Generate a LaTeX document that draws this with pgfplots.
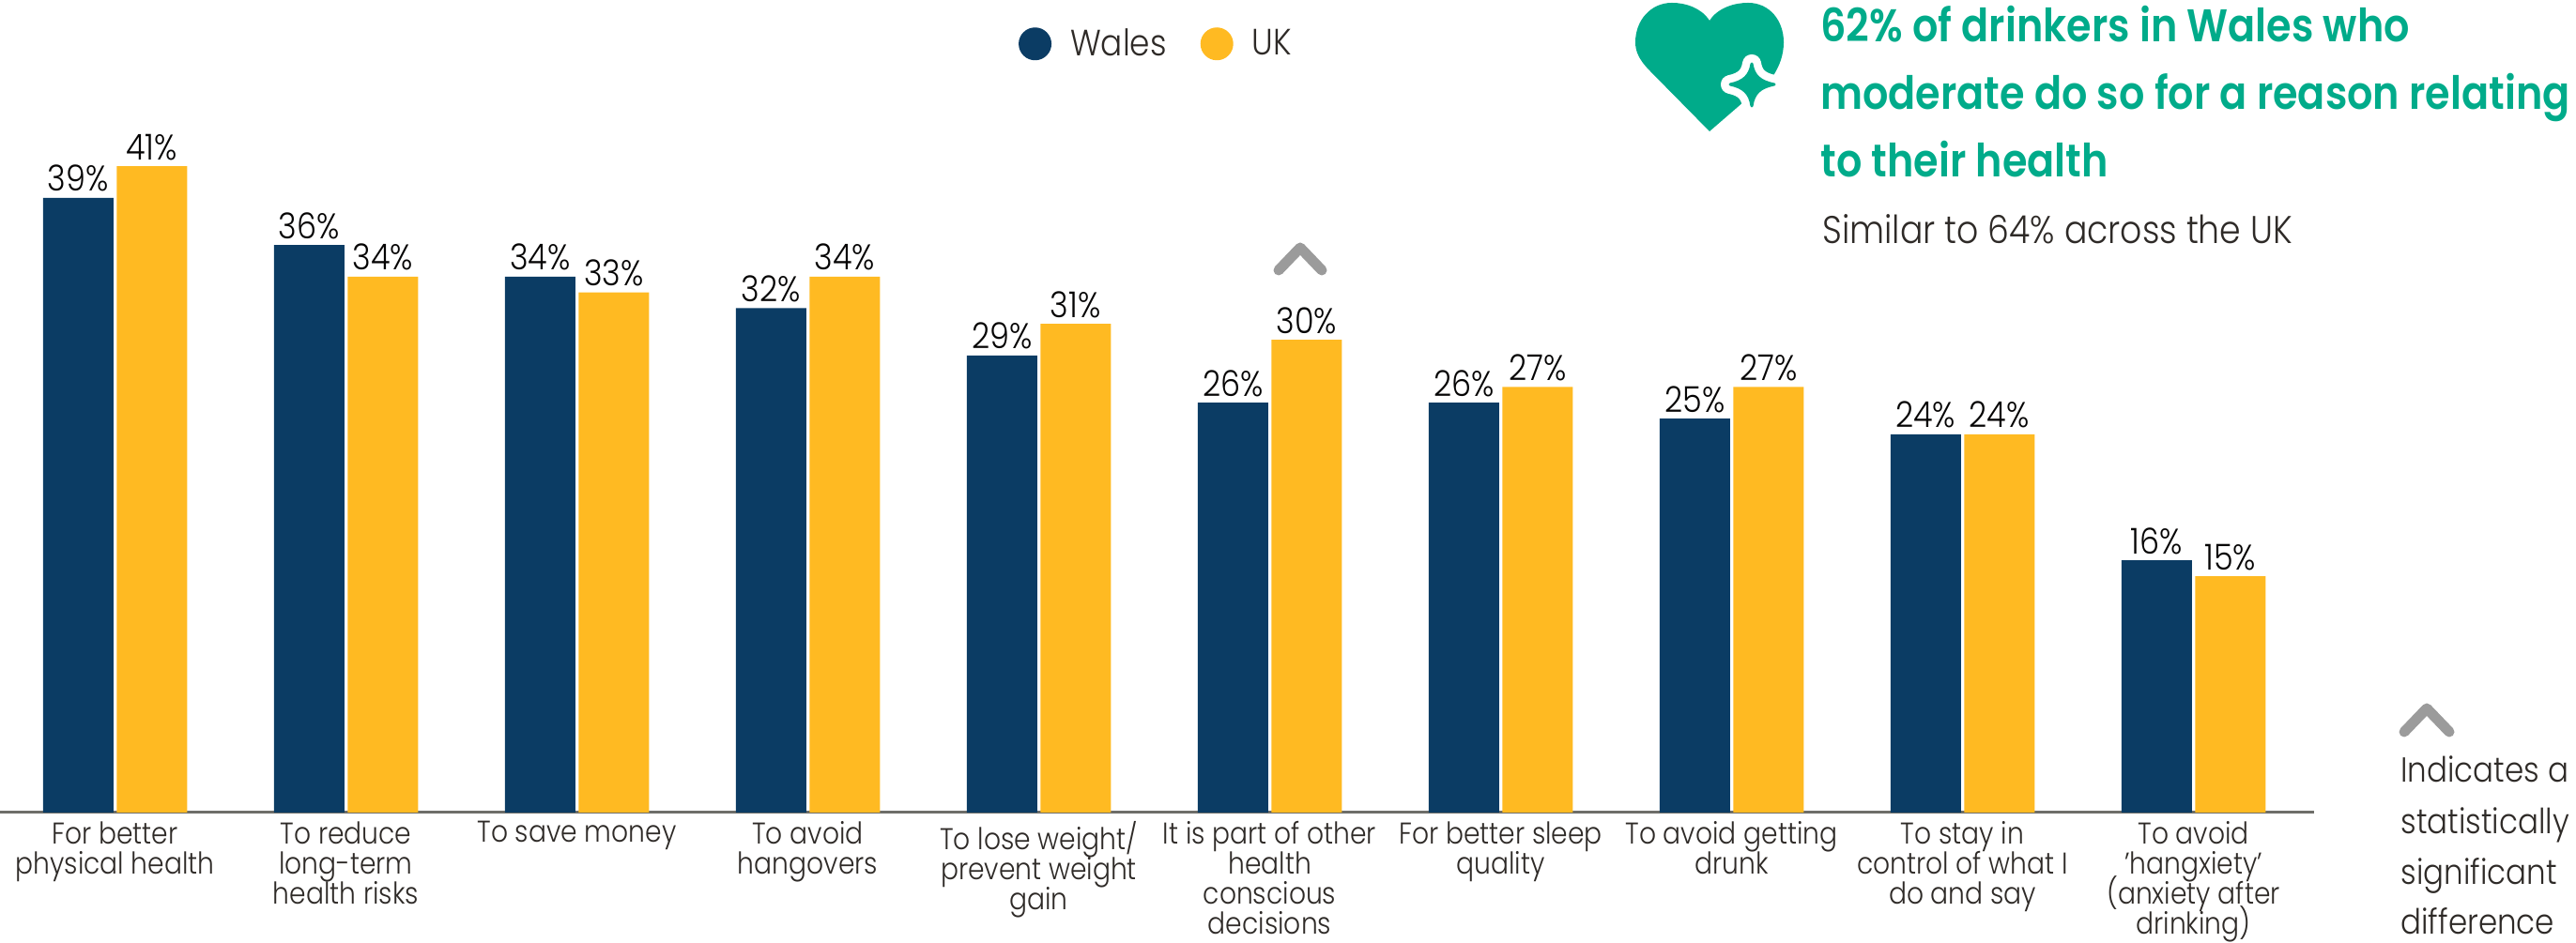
\documentclass[border=0pt]{standalone}
\usepackage{fontspec}
\setmainfont{Poppins Light}[FakeStretch=0.88]
\newfontfamily\boldfont{Poppins SemiBold}[FakeStretch=0.88]
\usepackage{pgfplots}
\pgfplotsset{compat=1.18}
\definecolor{walesblue}{HTML}{0B3C64}
\definecolor{ukyellow}{HTML}{FFBA22}
\definecolor{healthgreen}{HTML}{00AB8A}
\definecolor{txt}{HTML}{2E2A27}
\definecolor{chev}{HTML}{9B9B9B}
\definecolor{baseline}{HTML}{6E6E69}
\def\ticklabelfont{\fontsize{16}{16}\selectfont\lineskiplimit=-20pt\relax}
\begin{document}
\begin{tikzpicture}
\useasboundingbox (0,-69.5pt) rectangle (1372pt,433pt);
\begin{axis}[
    at={(0,0)}, anchor=south west,
    scale only axis,
    width=1232.5pt, height=433pt,
    xmin=-0.498, xmax=9.522, ymin=0, ymax=51.55,
    ybar=1.75pt, bar width=37.5pt,
    axis x line*=bottom, hide y axis,
    x axis line style={draw=baseline, line width=1.5pt, -},
    major tick length=0pt,
    /pgf/number format/assume math mode=true,
    xtick={0,...,9},
    xticklabels={{For better\\physical health},{To reduce\\long-term\\health risks},{To save money},{To avoid\\hangovers},{To lose weight/\\prevent weight\\gain},{It is part of other\\health\\conscious\\decisions},{For better sleep\\quality},{To avoid getting\\drunk},{To stay in\\control of what I\\do and say},{To avoid\\'hangxiety'\\(anxiety after\\drinking)}},
    xticklabel style={align=center, text=txt, font=\ticklabelfont, inner sep=0pt, yshift=-4.5pt},
    nodes near coords={\pgfmathprintnumber{\pgfplotspointmeta}\%},
    every node near coord/.append style={text=black!90!txt, font=\fontsize{19}{19}\selectfont, inner sep=1.5pt, yshift=1.5pt},
    legend columns=2,
    legend style={draw=none, fill=none, at={(0.5,0.946)}, anchor=center,
        font=\fontsize{19.5}{19.5}\selectfont, text=txt,
        /tikz/every odd column/.append style={column sep=8pt},
        /tikz/every even column/.append style={column sep=16pt}},
]
\addplot[fill=walesblue, draw=none, legend image code/.code={\fill[walesblue] (0.15cm,0) circle (8.75pt);}] coordinates {(0,39) (1,36) (2,34) (3,32) (4,29) (5,26) (6,26) (7,25) (8,24) (9,16)};
\addlegendentry{Wales}
\addplot[fill=ukyellow, draw=none, legend image code/.code={\fill[ukyellow] (0.15cm,0) circle (8.75pt);}] coordinates {(0,41) (1,34) (2,33) (3,34) (4,31) (5,30) (6,27) (7,27) (8,24) (9,15)};
\addlegendentry{UK}
\end{axis}
% pixel coordinates of the reference, y downwards
\begin{scope}[shift={(0,433pt)}, x=0.5pt, y=-0.5pt]
  % significance chevrons
  \draw[chev, line width=5.5pt, line cap=round, line join=round] (1362,288) -- (1385,264) -- (1408,288);
  \draw[chev, line width=5.5pt, line cap=round, line join=round] (2561,780) -- (2585,755) -- (2609,780);
  % heart with star
  \fill[healthgreen] (1821,22) .. controls (1830,8) and (1848,3) .. (1862,3)
      .. controls (1885,3) and (1900,22) .. (1900,45)
      .. controls (1900,58) and (1896,70) .. (1888,82)
      -- (1821,140) -- (1755,73)
      .. controls (1746,63) and (1742,55) .. (1742,45)
      .. controls (1742,22) and (1758,3) .. (1781,3)
      .. controls (1795,3) and (1812,8) .. (1821,22) -- cycle;
  \def\starpath{(1866,68) .. controls (1868,81) and (1875,87) .. (1890,90)
      .. controls (1875,93) and (1868,99) .. (1866,113)
      .. controls (1864,99) and (1857,93) .. (1843,90)
      .. controls (1857,87) and (1864,81) .. (1866,68) -- cycle}
  \draw[white, fill=white, line width=10pt, line join=round] \starpath;
  \filldraw[healthgreen, line width=1.5pt, line join=round] \starpath;
  % callout
  \node[anchor=base west, inner sep=0pt, text=healthgreen, font=\boldfont\fontsize{24.4}{24.4}\selectfont] at (1939,45) {62\% of drinkers in Wales who};
  \node[anchor=base west, inner sep=0pt, text=healthgreen, font=\boldfont\fontsize{24.4}{24.4}\selectfont] at (1939,117) {moderate do so for a reason relating};
  \node[anchor=base west, inner sep=0pt, text=healthgreen, font=\boldfont\fontsize{24.4}{24.4}\selectfont] at (1939,189) {to their health};
  \node[anchor=base west, inner sep=0pt, text=txt, font=\fontsize{20.6}{20.6}\selectfont] at (1941,260) {Similar to 64\% across the UK};
  % side note
  \node[anchor=base west, inner sep=0pt, text=txt, font=\fontsize{18.5}{18.5}\selectfont] at (2557,834) {Indicates a};
  \node[anchor=base west, inner sep=0pt, text=txt, font=\fontsize{18.5}{18.5}\selectfont] at (2557,889) {statistically};
  \node[anchor=base west, inner sep=0pt, text=txt, font=\fontsize{18.5}{18.5}\selectfont] at (2557,943) {significant};
  \node[anchor=base west, inner sep=0pt, text=txt, font=\fontsize{18.5}{18.5}\selectfont] at (2557,996) {difference};
\end{scope}
\end{tikzpicture}
\end{document}
